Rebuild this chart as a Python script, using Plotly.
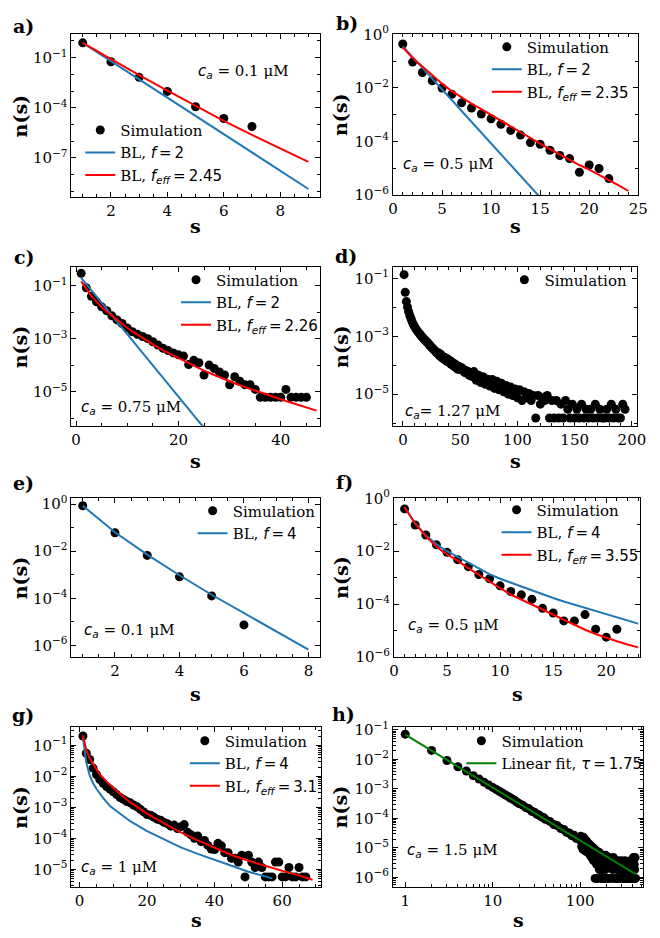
import plotly.graph_objects as go

W, H = 660, 938
BLUE = '#1f77b4'
RED = '#ff0000'
GREEN = '#008000'
SERIF = 'DejaVu Serif'

# ---------------- data ----------------
# a) c_a = 0.1 uM, f = 2
a_sim_s = [1, 2, 3, 4, 5, 6, 7]
a_sim_n = [7.6e-1, 5.6e-2, 6.6e-3, 9.5e-4, 1.15e-4, 2.3e-5, 7.6e-6]
a_fit_s = [1, 2, 3, 4, 5, 6, 7, 8, 9]
a_bl_f = [7.6e-1, 6.2e-2, 4.9e-3, 4.0e-4, 3.2e-5, 2.6e-6, 2.1e-7, 1.7e-8, 1.4e-9]
a_bl_feff = [7.6e-1, 7.9e-2, 8.9e-3, 1.05e-3, 1.26e-4, 1.66e-5, 2.4e-6, 3.6e-7, 5.8e-8]

# b) c_a = 0.5 uM, f = 2
b_sim_s = list(range(1, 23))
b_sim_n = [4.4e-1, 9.3e-2, 3.8e-2, 1.86e-2, 1.0e-2, 5.8e-3, 2.8e-3, 1.78e-3, 1.07e-3, 7.1e-4,
           4.4e-4, 2.6e-4, 1.74e-4, 9.1e-5, 7.9e-5, 4.7e-5, 3.0e-5, 2.3e-5, 7.1e-6, 1.32e-5,
           9.8e-6, 4.1e-6]
b_f_s = list(range(1, 17))
b_bl_f = [3.6e-1, 1.45e-1, 5.6e-2, 2.2e-2, 8.7e-3, 3.5e-3, 1.38e-3, 5.4e-4, 2.1e-4, 8.3e-5,
          3.3e-5, 1.32e-5, 5.1e-6, 2.0e-6, 7.9e-7, 3.2e-7]
b_feff_s = list(range(1, 25))
b_bl_feff = [3.3e-1, 1.32e-1, 6.3e-2, 3.0e-2, 1.45e-2, 7.6e-3, 4.4e-3, 2.6e-3, 1.62e-3, 9.8e-4,
             5.9e-4, 3.5e-4, 2.2e-4, 1.35e-4, 8.3e-5, 5.2e-5, 3.3e-5, 2.0e-5, 1.32e-5, 8.9e-6,
             5.8e-6, 3.6e-6, 2.3e-6, 1.41e-6]

# c) c_a = 0.75 uM, f = 2
c_sim_s = list(range(1, 46))
c_sim_n = [3.0e-1, 8.5e-2, 4.1e-2, 2.5e-2, 1.62e-2, 1.15e-2, 7.4e-3, 5.2e-3, 3.8e-3, 2.6e-3,
           1.86e-3, 1.48e-3, 1.23e-3, 1.02e-3, 7.8e-4, 5.9e-4, 4.4e-4, 3.6e-4, 2.95e-4, 2.5e-4,
           2.24e-4, 1.07e-4, 1.55e-4, 1.26e-4, 4.3e-5, 1.02e-4, 7.6e-5, 5.6e-5, 4.3e-5, 1.85e-5,
           3.7e-5, 2.5e-5, 1.85e-5, 1.85e-5, 1.23e-5, 6.2e-6, 6.2e-6, 6.2e-6, 6.2e-6, 6.2e-6,
           1.23e-5, 6.2e-6, 6.2e-6, 6.2e-6, 6.2e-6]
c_f_s = [1, 5, 10, 15, 20, 25, 28]
c_bl_f = [2.0e-1, 2.3e-2, 1.51e-3, 1.0e-4, 6.6e-6, 4.4e-7, 8.5e-8]
c_feff_s = [1, 3, 5, 7, 9, 11, 13, 15, 17, 19, 21, 23, 25, 27, 29, 31, 33, 35, 37, 39, 41, 43, 45, 47]
c_bl_feff = [1.48e-1, 4.2e-2, 1.58e-2, 7.4e-3, 3.7e-3, 1.91e-3, 1.05e-3, 6.2e-4, 3.7e-4, 2.34e-4,
             1.48e-4, 9.5e-5, 6.3e-5, 4.3e-5, 2.95e-5, 2.1e-5, 1.51e-5, 1.10e-5, 8.1e-6, 6.0e-6,
             4.5e-6, 3.4e-6, 2.6e-6, 1.95e-6]

# d) c_a = 1.27 uM
d_sim_s = list(range(1, 61)) + list(range(62, 196, 2))
d_sim_n = [1.35e-1, 3.3e-2, 1.58e-2, 1.02e-2, 7.1e-3, 5.2e-3, 4.1e-3, 3.2e-3, 2.6e-3, 2.2e-3,
           1.91e-3, 1.66e-3, 1.45e-3, 1.29e-3, 1.15e-3, 1.02e-3, 9.3e-4, 8.3e-4, 7.6e-4, 6.9e-4,
           6.2e-4, 5.8e-4, 5.0e-4, 4.7e-4, 4.1e-4, 3.8e-4, 3.4e-4, 3.2e-4, 2.8e-4, 2.6e-4,
           2.7e-4, 2.1e-4, 2.4e-4, 1.8e-4, 2.0e-4, 1.6e-4, 1.8e-4, 1.38e-4, 1.66e-4, 1.29e-4,
           1.45e-4, 1.07e-4, 1.26e-4, 9.5e-5, 1.12e-4, 8.3e-5, 1.0e-4, 7.2e-5, 9.1e-5, 7.1e-5,
           8.3e-5, 6.6e-5, 7.1e-5, 5.6e-5, 6.6e-5, 5.2e-5, 6.0e-5, 4.5e-5, 5.5e-5, 4.1e-5,
           6.0e-5, 3.0e-5, 4.5e-5, 2.5e-5, 4.0e-5, 2.2e-5, 3.3e-5, 1.9e-5, 3.2e-5, 1.58e-5,
           2.8e-5, 1.41e-5, 2.4e-5, 1.2e-5, 2.0e-5, 1.0e-5, 1.78e-5, 9.0e-6, 1.5e-5, 7.5e-6,
           1.41e-5, 6.0e-6, 1.2e-5, 7.5e-6, 1.05e-5, 6.0e-6, 9.0e-6, 1.5e-6, 9.0e-6, 4.5e-6,
           7.5e-6, 6.0e-6, 9.0e-6, 1.5e-6, 6.0e-6,
           1.5e-6, 6.0e-6, 1.5e-6, 4.5e-6, 1.5e-6, 6.0e-6, 3.0e-6, 1.5e-6, 4.5e-6, 1.5e-6,
           3.0e-6, 1.5e-6, 4.5e-6, 1.5e-6, 3.0e-6, 1.5e-6, 3.0e-6, 1.5e-6, 4.5e-6, 1.5e-6,
           3.0e-6, 1.5e-6, 1.5e-6, 3.0e-6, 1.5e-6, 4.5e-6, 1.5e-6, 3.0e-6, 1.5e-6, 1.5e-6,
           4.5e-6, 3.0e-6]

# e) c_a = 0.1 uM, f = 4
e_sim_s = [1, 2, 3, 4, 5, 6]
e_sim_n = [8.5e-1, 6.0e-2, 6.6e-3, 8.1e-4, 1.26e-4, 7.4e-6]
e_fit_s = [1, 2, 3, 4, 5, 6, 7, 8]
e_bl_f = [8.5e-1, 6.3e-2, 7.1e-3, 9.5e-4, 1.41e-4, 2.3e-5, 3.9e-6, 6.6e-7]

# f) c_a = 0.5 uM, f = 4
f_sim_s = list(range(1, 22))
f_sim_n = [4.0e-1, 9.8e-2, 4.1e-2, 1.74e-2, 9.1e-3, 4.8e-3, 2.6e-3, 1.32e-3, 9.1e-4, 4.9e-4,
           3.0e-4, 2.24e-4, 1.51e-4, 6.9e-5, 4.6e-5, 2.3e-5, 2.3e-5, 4.0e-5, 1.12e-5, 5.6e-6,
           1.12e-5]
f_fit_s = list(range(1, 24))
f_bl_f = [4.6e-1, 1.12e-1, 4.0e-2, 1.82e-2, 1.0e-2, 6.0e-3, 3.5e-3, 2.14e-3, 1.35e-3, 9.1e-4,
          6.5e-4, 4.4e-4, 3.2e-4, 2.3e-4, 1.70e-4, 1.26e-4, 9.5e-5, 7.2e-5, 5.5e-5, 4.2e-5,
          3.2e-5, 2.4e-5, 1.82e-5]
f_bl_feff = [4.6e-1, 1.12e-1, 3.7e-2, 1.48e-2, 7.6e-3, 4.4e-3, 2.3e-3, 1.26e-3, 6.8e-4, 4.0e-4,
             2.3e-4, 1.48e-4, 9.3e-5, 6.0e-5, 3.8e-5, 2.5e-5, 1.58e-5, 1.07e-5, 7.4e-6, 5.2e-6,
             3.9e-6, 2.95e-6, 2.3e-6]

# g) c_a = 1 uM, f = 4
g_sim_s = list(range(1, 68))
g_sim_n = [2.0e-1, 5.6e-2, 3.5e-2, 1.86e-2, 1.15e-2, 7.9e-3, 6.0e-3, 4.7e-3, 3.9e-3, 3.2e-3,
           2.6e-3, 2.1e-3, 1.82e-3, 1.55e-3, 1.41e-3, 1.20e-3, 1.05e-3, 8.7e-4, 7.2e-4, 5.9e-4,
           5.6e-4, 4.9e-4, 4.2e-4, 3.9e-4, 3.3e-4, 3.0e-4, 2.5e-4, 2.7e-4, 2.1e-4, 2.4e-4,
           2.8e-4, 1.58e-4, 1.32e-4, 1.02e-4, 1.20e-4, 7.9e-5, 8.7e-5, 6.0e-5, 4.6e-5, 4.4e-5,
           7.0e-5, 5.8e-5, 3.5e-5, 3.5e-5, 2.3e-5, 2.3e-5, 1.74e-5, 2.9e-5, 5.8e-6, 2.9e-5,
           1.74e-5, 1.16e-5, 1.74e-5, 1.16e-5, 5.8e-6, 5.8e-6, 5.8e-6, 1.74e-5, 1.74e-5, 5.8e-6,
           5.8e-6, 1.16e-5, 5.8e-6, 5.8e-6, 1.16e-5, 5.8e-6, 5.8e-6]
g_f_s = [1, 2, 3, 4, 5, 7, 9, 12, 15, 20, 25, 30, 35, 40, 45, 50, 55, 57]
g_bl_f = [1.78e-1, 2.8e-2, 1.07e-2, 6.0e-3, 4.0e-3, 2.0e-3, 1.12e-3, 6.2e-4, 3.6e-4, 1.74e-4,
          9.3e-5, 5.2e-5, 3.2e-5, 2.0e-5, 1.32e-5, 8.5e-6, 6.0e-6, 5.2e-6]
g_feff_s = [1, 2, 3, 4, 5, 6, 8, 10, 12, 15, 20, 25, 30, 35, 40, 45, 50, 55, 60, 65, 69]
g_bl_feff = [2.1e-1, 7.1e-2, 3.8e-2, 2.5e-2, 1.66e-2, 1.17e-2, 6.8e-3, 4.2e-3, 2.7e-3, 1.48e-3,
             6.3e-4, 3.1e-4, 1.58e-4, 8.7e-5, 5.0e-5, 2.95e-5, 1.91e-5, 1.29e-5, 9.1e-6, 6.5e-6,
             4.7e-6]

# h) c_a = 1.5 uM
h_sim_s = ([1, 2, 3, 4, 5, 6, 7, 8, 9, 10, 11, 12, 13, 14, 15, 16, 17, 18, 19, 20,
            22, 24, 26, 28, 30, 32, 34, 36, 38, 40,
            45, 50, 55, 60, 65, 70, 75, 80, 85, 90, 95]
           + list(range(100, 201, 2)) + list(range(205, 431, 5)))
h_sim_n = [7.1e-2, 2.0e-2, 9.1e-3, 5.6e-3, 4.0e-3, 2.8e-3, 2.14e-3, 1.66e-3, 1.35e-3, 1.12e-3,
           9.5e-4, 8.1e-4, 7.1e-4, 6.2e-4, 5.5e-4, 4.9e-4, 4.4e-4, 4.0e-4, 3.5e-4, 3.2e-4,
           2.8e-4, 2.3e-4, 2.1e-4, 1.74e-4, 1.62e-4, 1.38e-4, 1.29e-4, 1.12e-4, 1.07e-4, 9.3e-5,
           7.9e-5, 6.2e-5, 5.6e-5, 4.5e-5, 4.2e-5, 3.4e-5, 3.2e-5, 2.6e-5, 2.7e-5, 2.1e-5, 2.2e-5,
           # s = 100 .. 200 (step 2)
           1.86e-5, 2.5e-5, 1.12e-5, 2.0e-5, 8.9e-6, 2.24e-5, 1.26e-5, 7.9e-6, 1.78e-5, 1.0e-5,
           1.58e-5, 7.1e-6, 1.41e-5, 8.9e-6, 1.26e-5, 5.6e-6, 1.2e-5, 7.9e-6, 4.7e-6, 1.05e-5,
           6.3e-6, 3.7e-6, 9.5e-6, 5.6e-6, 9.3e-7, 8.3e-6, 4.7e-6, 2.8e-6, 7.6e-6, 9.3e-7,
           5.6e-6, 3.7e-6, 7.1e-6, 1.86e-6, 4.7e-6, 6.3e-6, 9.3e-7, 3.7e-6, 5.6e-6, 1.86e-6,
           4.7e-6, 9.3e-7, 5.6e-6, 2.8e-6, 3.7e-6, 9.3e-7, 4.7e-6, 1.86e-6, 5.6e-6, 9.3e-7,
           3.7e-6,
           # s = 205 .. 430 (step 5)
           3.7e-6, 9.3e-7, 4.7e-6, 2.8e-6, 9.3e-7, 3.7e-6, 1.86e-6, 4.7e-6, 9.3e-7, 2.8e-6,
           3.7e-6, 9.3e-7, 1.86e-6, 3.7e-6, 9.3e-7, 2.8e-6, 1.86e-6, 9.3e-7, 3.7e-6, 1.86e-6,
           9.3e-7, 2.8e-6, 9.3e-7, 1.86e-6, 3.7e-6, 9.3e-7, 1.86e-6, 2.8e-6, 9.3e-7, 1.86e-6,
           9.3e-7, 2.8e-6, 1.86e-6, 9.3e-7, 3.7e-6, 9.3e-7, 1.86e-6, 2.8e-6, 9.3e-7, 1.86e-6,
           4.7e-6, 9.3e-7, 2.8e-6, 1.86e-6, 4.7e-6, 9.3e-7]
h_fit_s = [1, 430]
h_fit_n = [6.8e-2, 1.3e-6]

# ---------------- layout helpers ----------------
def fx(p):
    return p / W


def fy(p):
    return 1 - p / H


def ax_name(k, a):
    return a if k == 1 else f'{a}{k}'


def pw(e):
    return '10<sup>' + ('\u2212' if e < 0 else '') + str(abs(e)) + '</sup>'


MATH = 'font-family:DejaVu Sans'


def math(s):
    return f'<span style="{MATH}">{s}</span>'


F2 = math('<i>f</i>\u2009=\u20092')
F4 = math('<i>f</i>\u2009=\u20094')


def feff(v):
    return math('<i>f</i><sub><i>eff</i></sub>\u2009=\u2009' + v)


def ca(v, sp=' '):
    return math('<i>c</i><sub><i>a</i></sub>') + sp + '= ' + v + ' \u03bcM'


# panel geometry (pixels): left, right, top, bottom; sy = offset of the "s" label below the axis
panels = {
    1: dict(box=(68, 322, 24, 190), sy=30, xr=[0.6, 9.4], yr=[-9.33, 0.38], xlog=False,
            xt=[2, 4, 6, 8], xm=[1, 1.5, 2.5, 3, 3.5, 4.5, 5, 5.5, 6.5, 7, 7.5, 8.5, 9],
            ye=[-1, -4, -7], yminor=[0, -2, -3, -5, -6, -8, -9], ysub=False),
    2: dict(box=(397, 648, 24, 188), sy=32, xr=[0, 25], yr=[-6, 0], xlog=False,
            xt=[0, 5, 10, 15, 20, 25], xm=[v for v in range(1, 25) if v % 5],
            ye=[0, -2, -4, -6], yminor=[-1, -3, -5], ysub=False),
    3: dict(box=(68, 322, 262, 424), sy=36, xr=[-0.9, 47.6], yr=[-6.29, -0.30], xlog=False,
            xt=[0, 20, 40], xm=[5, 10, 15, 25, 30, 35, 45],
            ye=[-1, -3, -5], yminor=[-2, -4, -6], ysub=False),
    4: dict(box=(397, 647, 262, 424), sy=36, xr=[-8.7, 204.7], yr=[-6.10, -0.62], xlog=False,
            xt=[0, 50, 100, 150, 200], xm=[v for v in range(10, 200, 10) if v % 50],
            ye=[-1, -3, -5], yminor=[-2, -4, -6], ysub=False),
    5: dict(box=(68, 322, 498, 660), sy=38, xr=[0.65, 8.35], yr=[-6.49, 0.24], xlog=False,
            xt=[2, 4, 6, 8], xm=[1, 1.5, 2.5, 3, 3.5, 4.5, 5, 5.5, 6.5, 7, 7.5, 8.5],
            ye=[0, -2, -4, -6], yminor=[-1, -3, -5], ysub=False),
    6: dict(box=(398, 650, 498, 660), sy=38, xr=[0, 23.2], yr=[-6, 0], xlog=False,
            xt=[0, 5, 10, 15, 20], xm=[v for v in range(1, 24) if v % 5],
            ye=[0, -2, -4, -6], yminor=[-1, -3, -5], ysub=False),
    7: dict(box=(68, 323, 732, 895), sy=34, xr=[-2.4, 71.4], yr=[-5.56, -0.42], xlog=False,
            xt=[0, 20, 40, 60], xm=[5, 10, 15, 25, 30, 35, 45, 50, 55, 65, 70],
            ye=[-1, -2, -3, -4, -5], yminor=None, ysub=True),
    8: dict(box=(397, 653, 732, 895), sy=34, xr=[-0.14, 2.72], yr=[-6.32, -0.92], xlog=True,
            xt=[1, 10, 100], xm=[m * 10 ** d for d in range(0, 3) for m in range(2, 10)],
            ye=[-1, -2, -3, -4, -5, -6], yminor=None, ysub=True),
}

fig = go.Figure()

TICKFONT = dict(family=SERIF, size=15, color='black')


def add_sim(k, s, n):
    fig.add_trace(go.Scatter(x=s, y=n, mode='markers', name='Simulation',
                             marker=dict(color='black', size=9, line=dict(width=0)),
                             xaxis=ax_name(k, 'x'), yaxis=ax_name(k, 'y'),
                             legend=ax_name(k, 'legend')))


def add_line(k, s, n, color, name):
    fig.add_trace(go.Scatter(x=s, y=n, mode='lines', name=name,
                             line=dict(color=color, width=2),
                             xaxis=ax_name(k, 'x'), yaxis=ax_name(k, 'y'),
                             legend=ax_name(k, 'legend')))


add_sim(1, a_sim_s, a_sim_n)
add_line(1, a_fit_s, a_bl_f, BLUE, 'BL, ' + F2)
add_line(1, a_fit_s, a_bl_feff, RED, 'BL, ' + feff('2.45'))

add_sim(2, b_sim_s, b_sim_n)
add_line(2, b_f_s, b_bl_f, BLUE, 'BL, ' + F2)
add_line(2, b_feff_s, b_bl_feff, RED, 'BL, ' + feff('2.35'))

add_sim(3, c_sim_s, c_sim_n)
add_line(3, c_f_s, c_bl_f, BLUE, 'BL, ' + F2)
add_line(3, c_feff_s, c_bl_feff, RED, 'BL, ' + feff('2.26'))

add_sim(4, d_sim_s, d_sim_n)

add_sim(5, e_sim_s, e_sim_n)
add_line(5, e_fit_s, e_bl_f, BLUE, 'BL, ' + F4)

add_sim(6, f_sim_s, f_sim_n)
add_line(6, f_fit_s, f_bl_f, BLUE, 'BL, ' + F4)
add_line(6, f_fit_s, f_bl_feff, RED, 'BL, ' + feff('3.55'))

add_sim(7, g_sim_s, g_sim_n)
add_line(7, g_f_s, g_bl_f, BLUE, 'BL, ' + F4)
add_line(7, g_feff_s, g_bl_feff, RED, 'BL, ' + feff('3.1'))

add_sim(8, h_sim_s, h_sim_n)
add_line(8, h_fit_s, h_fit_n, GREEN, 'Linear fit, ' + math('<i>\u03c4</i>\u2009=\u20091.75'))

layout = dict(width=W, height=H, margin=dict(l=0, r=0, t=0, b=0),
              paper_bgcolor='white', plot_bgcolor='white', showlegend=True,
              font=dict(family=SERIF, size=15, color='black'))

common = dict(showline=True, linecolor='black', linewidth=1, mirror='allticks',
              ticks='inside', ticklen=5, tickwidth=1, tickcolor='black',
              showgrid=False, zeroline=False, tickfont=TICKFONT)

# legend anchor: text start x, first row centre y
legend_pos = {1: (122, 127), 2: (538, 42), 3: (220, 280), 4: (556, 280),
              5: (237, 516), 6: (548, 515), 7: (229, 751), 8: (512, 751)}

for k, p in panels.items():
    l, r, t, b = p['box']
    xa = dict(common, domain=[fx(l), fx(r)], anchor=ax_name(k, 'y'))
    if p['xlog']:
        xa.update(type='log', range=p['xr'], tickvals=p['xt'],
                  ticktext=[str(v) for v in p['xt']])
    else:
        xa.update(type='linear', range=p['xr'], tickvals=p['xt'],
                  ticktext=[str(v) for v in p['xt']])
    xa['minor'] = dict(ticks='inside', ticklen=3, tickwidth=1, tickcolor='black',
                       tickvals=p['xm'], showgrid=False)
    ya = dict(common, domain=[fy(b), fy(t)], anchor=ax_name(k, 'x'), type='log',
              range=p['yr'], tickvals=[10.0 ** e for e in p['ye']],
              ticktext=[pw(e) for e in p['ye']])
    if p['ysub']:
        ymin = [m * 10.0 ** d for d in range(-7, 1) for m in range(2, 10)]
    else:
        ymin = [10.0 ** e for e in p['yminor']]
    ya['minor'] = dict(ticks='inside', ticklen=3, tickwidth=1, tickcolor='black',
                       tickvals=ymin, showgrid=False)
    layout['xaxis' if k == 1 else f'xaxis{k}'] = xa
    layout['yaxis' if k == 1 else f'yaxis{k}'] = ya
    T, Y = legend_pos[k]
    layout[ax_name(k, 'legend')] = dict(
        x=fx(T - 45), y=fy(Y - 22), xanchor='left', yanchor='top',
        bgcolor='rgba(0,0,0,0)', borderwidth=0, tracegroupgap=0,
        font=dict(family=SERIF, size=15, color='black'))

annotations = []

# panel letters
letters = {1: ('a)', 6, 15), 2: ('b)', 337, 12), 3: ('c)', 7, 251), 4: ('d)', 336, 250),
           5: ('e)', 6, 482), 6: ('f)', 337, 481), 7: ('g)', 5, 719), 8: ('h)', 333, 718)}
for k, (txt, x, y) in letters.items():
    annotations.append(dict(text='<b>' + txt + '</b>', x=fx(x), y=fy(y), xref='paper', yref='paper',
                            xanchor='left', yanchor='middle', showarrow=False,
                            font=dict(family=SERIF, size=19, color='black')))

# concentration labels
conc = {1: (ca('0.1'), 195, 62), 2: (ca('0.5'), 405, 157), 3: (ca('0.75'), 76, 405),
        4: (ca('1.27', ''), 407, 409), 5: (ca('0.1'), 79, 633), 6: (ca('0.5'), 410, 628),
        7: (ca('1'), 76, 875), 8: (ca('1.5'), 409, 858)}
for k, (txt, x, y) in conc.items():
    annotations.append(dict(text=txt, x=fx(x), y=fy(y), xref='paper', yref='paper',
                            xanchor='left', yanchor='middle', showarrow=False,
                            font=dict(family=SERIF, size=15, color='black')))

# axis titles
for k, p in panels.items():
    l, r, t, b = p['box']
    annotations.append(dict(text='<b>s</b>', x=fx((l + r) / 2), y=fy(b + p['sy']), xref='paper',
                            yref='paper', xanchor='center', yanchor='middle', showarrow=False,
                            font=dict(family=SERIF, size=19, color='black')))
    xl = 15 if l < 200 else 343
    annotations.append(dict(text='<b>n(s)</b>', x=fx(xl), y=fy((t + b) / 2), xref='paper',
                            yref='paper', xanchor='center', yanchor='middle', showarrow=False,
                            textangle=-90, font=dict(family=SERIF, size=19, color='black')))

layout['annotations'] = annotations
fig.update_layout(**layout)
fig.write_html('out.html', config={'displayModeBar': False},
               post_script="document.body.style.margin='0px';document.body.style.overflow='hidden';")
